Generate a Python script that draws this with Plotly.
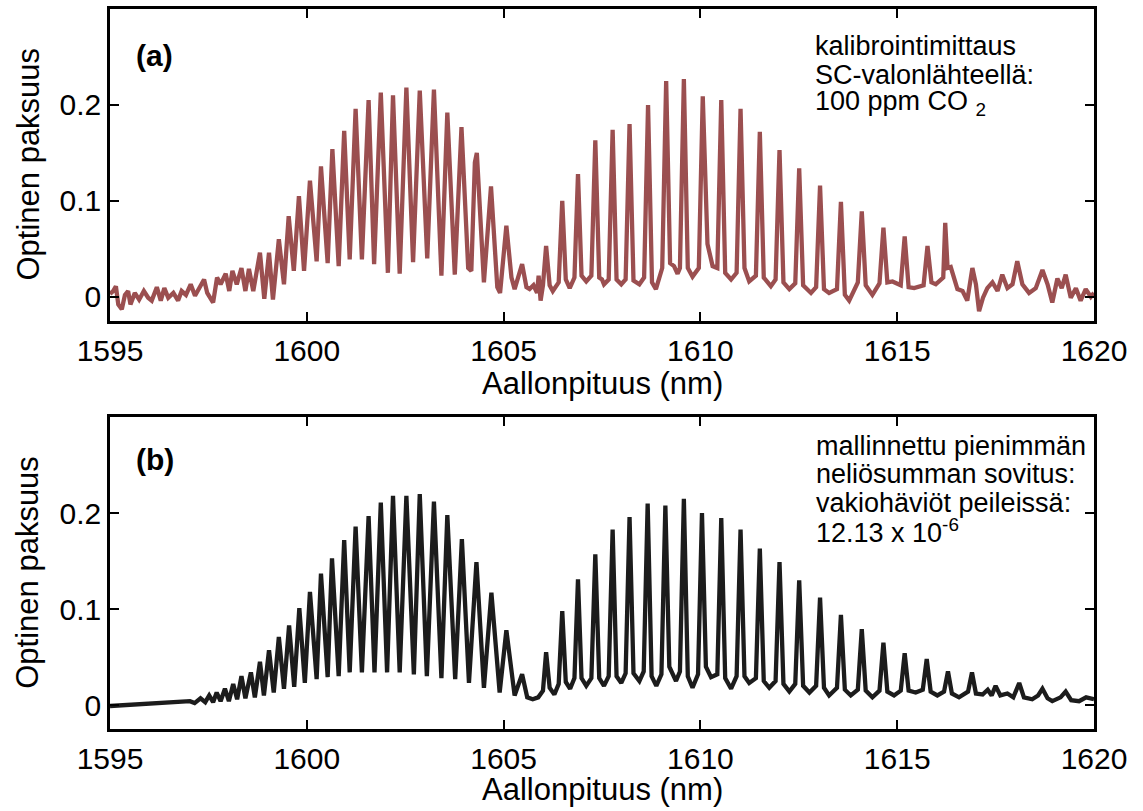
import plotly.graph_objects as go

# (wavelength nm, optical depth), panel (a)
meas_noise = [
    (1595.00, 0.003), (1595.08, 0.006), (1595.15, 0.011), (1595.21, -0.008), (1595.30, -0.013),
    (1595.38, 0.002), (1595.46, 0.006), (1595.52, -0.008), (1595.63, 0.004), (1595.74, -0.003),
    (1595.86, 0.006), (1595.97, -0.001), (1596.06, -0.004), (1596.19, 0.010), (1596.29, -0.004),
    (1596.38, 0.009), (1596.48, -0.001), (1596.61, 0.004), (1596.73, -0.004), (1596.82, 0.006),
    (1596.93, 0.002), (1597.05, 0.013), (1597.16, 0.001), (1597.27, 0.009), (1597.39, 0.018),
    (1597.47, 0.004), (1597.62, -0.006), (1597.72, 0.020), (1597.81, 0.013), (1597.94, 0.024),
    (1598.03, 0.006), (1598.11, 0.027), (1598.22, 0.013), (1598.34, 0.030), (1598.44, 0.006),
    (1598.53, 0.029), (1598.64, 0.006),
]
meas_r_branch = [
    (1598.81, 0.046), (1598.92, -0.002), (1599.04, 0.046), (1599.14, -0.003), (1599.29, 0.060),
    (1599.42, 0.013), (1599.54, 0.084), (1599.67, 0.027), (1599.80, 0.105), (1599.93, 0.027),
    (1600.08, 0.121), (1600.25, 0.037), (1600.36, 0.136), (1600.53, 0.035), (1600.65, 0.154),
    (1600.81, 0.032), (1600.95, 0.173), (1601.09, 0.039), (1601.24, 0.196), (1601.40, 0.039),
    (1601.57, 0.205), (1601.71, 0.034), (1601.88, 0.213), (1602.06, 0.025), (1602.19, 0.210),
    (1602.36, 0.024), (1602.53, 0.218), (1602.70, 0.036), (1602.87, 0.215), (1603.06, 0.040),
    (1603.23, 0.216), (1603.42, 0.022), (1603.57, 0.192), (1603.76, 0.023), (1603.93, 0.177),
    (1604.10, 0.030), (1604.18, 0.027), (1604.27, 0.140), (1604.32, 0.150), (1604.50, 0.015),
    (1604.68, 0.115), (1604.84, 0.010), (1604.91, 0.004), (1605.07, 0.074), (1605.20, 0.020),
    (1605.28, 0.008), (1605.47, 0.034), (1605.58, 0.010), (1605.66, 0.008), (1605.76, 0.012),
    (1605.85, 0.004), (1605.89, 0.022), (1605.94, -0.004),
]
meas_p_branch = [
    (1606.00, 0.012), (1606.08, 0.053), (1606.17, 0.012), (1606.25, 0.006),
    (1606.40, 0.015), (1606.49, 0.100), (1606.58, 0.018), (1606.68, 0.009),
    (1606.80, 0.020), (1606.89, 0.128), (1606.98, 0.022), (1607.10, 0.016),
    (1607.23, 0.022), (1607.33, 0.163), (1607.43, 0.020), (1607.50, 0.018), (1607.55, 0.013),
    (1607.67, 0.018), (1607.77, 0.174), (1607.87, 0.018), (1607.99, 0.013),
    (1608.10, 0.018), (1608.20, 0.180), (1608.30, 0.017), (1608.45, 0.013),
    (1608.57, 0.020), (1608.67, 0.200), (1608.77, 0.015), (1608.87, 0.008),
    (1609.03, 0.030), (1609.13, 0.225), (1609.23, 0.035), (1609.33, 0.032), (1609.42, 0.024),
    (1609.48, 0.030), (1609.58, 0.227), (1609.68, 0.030), (1609.80, 0.021),
    (1609.96, 0.030), (1610.06, 0.209), (1610.18, 0.055), (1610.31, 0.032),
    (1610.43, 0.030), (1610.53, 0.205), (1610.63, 0.025), (1610.78, 0.018),
    (1610.92, 0.025), (1611.02, 0.196), (1611.12, 0.030), (1611.24, 0.016),
    (1611.41, 0.022), (1611.51, 0.172), (1611.61, 0.020), (1611.79, 0.011),
    (1611.91, 0.018), (1612.01, 0.153), (1612.11, 0.015), (1612.26, 0.008),
    (1612.41, 0.014), (1612.51, 0.134), (1612.61, 0.012), (1612.81, 0.004),
    (1612.94, 0.010), (1613.04, 0.116), (1613.14, 0.008), (1613.27, 0.004),
    (1613.47, 0.008), (1613.57, 0.099), (1613.67, 0.002), (1613.78, -0.004),
    (1614.00, 0.015), (1614.10, 0.089), (1614.20, 0.012), (1614.37, 0.002),
    (1614.55, 0.014), (1614.65, 0.072), (1614.75, 0.015), (1614.88, 0.016),
    (1615.09, 0.012), (1615.19, 0.063), (1615.29, 0.010), (1615.43, 0.009),
    (1615.67, 0.012), (1615.77, 0.053), (1615.87, 0.015), (1615.98, 0.013),
    (1616.17, 0.020), (1616.22, 0.077),
]
meas_tail = [
    (1616.28, 0.030), (1616.36, 0.031), (1616.45, 0.020), (1616.53, 0.008), (1616.66, 0.006),
    (1616.78, -0.004), (1616.91, 0.030), (1617.00, 0.013), (1617.08, -0.015), (1617.18, -0.001),
    (1617.29, 0.009), (1617.42, 0.015), (1617.55, 0.006), (1617.67, 0.023), (1617.80, 0.009),
    (1617.93, 0.013), (1618.05, 0.037), (1618.18, 0.013), (1618.35, 0.004), (1618.52, 0.009),
    (1618.69, 0.028), (1618.82, 0.013), (1618.94, -0.006), (1619.07, 0.019), (1619.18, 0.009),
    (1619.28, 0.023), (1619.41, -0.001), (1619.54, 0.009), (1619.66, -0.004), (1619.79, 0.008),
    (1619.92, 0.000), (1620.00, 0.004),
]

# modelled least-squares fit, panel (b)
fit_base = [
    (1595.00, -0.001), (1595.50, 0.000), (1596.00, 0.001), (1596.50, 0.002), (1596.90, 0.003),
    (1597.03, 0.004), (1597.15, 0.002), (1597.30, 0.007), (1597.42, 0.003), (1597.52, 0.010),
    (1597.62, 0.003), (1597.71, 0.013), (1597.81, 0.004), (1597.92, 0.017), (1598.02, 0.004),
    (1598.13, 0.022), (1598.23, 0.006), (1598.34, 0.030), (1598.44, 0.007), (1598.58, 0.034),
    (1598.68, 0.008),
]
fit_r_branch = [
    (1598.81, 0.045), (1598.91, 0.010), (1599.04, 0.057), (1599.16, 0.013), (1599.29, 0.071),
    (1599.42, 0.017), (1599.55, 0.083), (1599.68, 0.019), (1599.81, 0.101), (1599.95, 0.023),
    (1600.08, 0.118), (1600.25, 0.027), (1600.36, 0.137), (1600.53, 0.029), (1600.64, 0.153),
    (1600.81, 0.030), (1600.95, 0.172), (1601.09, 0.034), (1601.24, 0.186), (1601.40, 0.034),
    (1601.57, 0.197), (1601.72, 0.034), (1601.88, 0.211), (1602.04, 0.034), (1602.19, 0.218),
    (1602.36, 0.034), (1602.53, 0.218), (1602.72, 0.032), (1602.87, 0.220), (1603.05, 0.030),
    (1603.23, 0.212), (1603.42, 0.028), (1603.57, 0.198), (1603.77, 0.027), (1603.94, 0.173),
    (1604.12, 0.023), (1604.31, 0.149), (1604.50, 0.018), (1604.69, 0.117), (1604.90, 0.013),
    (1605.07, 0.078), (1605.28, 0.010), (1605.47, 0.032), (1605.60, 0.008), (1605.74, 0.006),
    (1605.88, 0.008),
]
fit_p_branch = [
    (1606.00, 0.015), (1606.08, 0.055), (1606.17, 0.018), (1606.29, 0.011),
    (1606.40, 0.022), (1606.49, 0.098), (1606.58, 0.024), (1606.69, 0.017),
    (1606.80, 0.028), (1606.89, 0.131), (1606.98, 0.028), (1607.10, 0.020),
    (1607.23, 0.028), (1607.33, 0.157), (1607.43, 0.028), (1607.55, 0.020),
    (1607.67, 0.030), (1607.77, 0.183), (1607.87, 0.030), (1607.99, 0.023),
    (1608.10, 0.033), (1608.20, 0.196), (1608.30, 0.033), (1608.45, 0.025),
    (1608.56, 0.035), (1608.66, 0.210), (1608.76, 0.030), (1608.88, 0.020),
    (1609.01, 0.032), (1609.11, 0.208), (1609.21, 0.040), (1609.38, 0.025),
    (1609.48, 0.035), (1609.58, 0.215), (1609.68, 0.030), (1609.80, 0.018),
    (1609.94, 0.032), (1610.04, 0.200), (1610.14, 0.040), (1610.27, 0.029),
    (1610.43, 0.032), (1610.53, 0.195), (1610.63, 0.028), (1610.78, 0.017),
    (1610.92, 0.030), (1611.02, 0.183), (1611.12, 0.030), (1611.24, 0.023),
    (1611.41, 0.028), (1611.51, 0.163), (1611.61, 0.025), (1611.75, 0.018),
    (1611.91, 0.025), (1612.01, 0.149), (1612.11, 0.022), (1612.26, 0.014),
    (1612.41, 0.022), (1612.51, 0.130), (1612.61, 0.020), (1612.77, 0.013),
    (1612.94, 0.020), (1613.04, 0.112), (1613.14, 0.018), (1613.27, 0.010),
    (1613.47, 0.018), (1613.57, 0.094), (1613.67, 0.016), (1613.82, 0.010),
    (1614.00, 0.016), (1614.10, 0.079), (1614.20, 0.015), (1614.37, 0.008),
    (1614.55, 0.015), (1614.65, 0.065), (1614.75, 0.014), (1614.92, 0.010),
    (1615.09, 0.015), (1615.19, 0.054), (1615.29, 0.015), (1615.47, 0.013),
    (1615.65, 0.016), (1615.75, 0.048), (1615.85, 0.014), (1616.02, 0.010),
    (1616.19, 0.014), (1616.29, 0.035), (1616.39, 0.012), (1616.57, 0.008),
]
fit_tail = [
    (1616.80, 0.014), (1616.90, 0.034), (1617.00, 0.012), (1617.17, 0.011), (1617.30, 0.016),
    (1617.40, 0.010), (1617.50, 0.020), (1617.62, 0.010), (1617.80, 0.012), (1617.95, 0.008),
    (1618.10, 0.023), (1618.22, 0.008), (1618.43, 0.006), (1618.58, 0.010), (1618.69, 0.017),
    (1618.82, 0.007), (1618.94, 0.004), (1619.15, 0.008), (1619.28, 0.014), (1619.42, 0.005),
    (1619.62, 0.004), (1619.80, 0.008), (1620.00, 0.006),
]

x_ticks = [1595, 1600, 1605, 1610, 1615, 1620]
y_ticks = [0, 0.1, 0.2]
y_ticktext = ["0", "0.1", "0.2"]

meas = meas_noise + meas_r_branch + meas_p_branch + meas_tail
fit = fit_base + fit_r_branch + fit_p_branch + fit_tail

FONT = "Liberation Sans, Arial, sans-serif"

fig = go.Figure()
fig.add_trace(go.Scatter(
    x=[p[0] for p in meas], y=[p[1] for p in meas], mode="lines",
    line=dict(color="#9b4f50", width=4.3), xaxis="x", yaxis="y",
))
fig.add_trace(go.Scatter(
    x=[p[0] for p in fit], y=[p[1] for p in fit], mode="lines",
    line=dict(color="#1c1c1c", width=4.3), xaxis="x2", yaxis="y2",
))

xax = dict(
    range=[1595, 1620], tickvals=x_ticks, ticks="inside", ticklen=9, tickwidth=2,
    tickcolor="black", showline=True, linewidth=2.5, linecolor="black", mirror="allticks",
    showgrid=False, zeroline=False, tickfont=dict(family=FONT, size=30, color="black"),
    ticklabelstandoff=1,
)
yax = dict(
    range=[-0.025, 0.3], tickvals=y_ticks, ticktext=y_ticktext, ticks="inside", ticklen=9,
    tickwidth=2, tickcolor="black", showline=True, linewidth=2.5, linecolor="black",
    mirror="allticks", showgrid=False, zeroline=False,
    tickfont=dict(family=FONT, size=30, color="black"), ticklabelstandoff=0,
)

fig.update_layout(
    width=1143, height=811,
    margin=dict(l=110, r=49, t=6, b=82),
    plot_bgcolor="white", paper_bgcolor="white",
    showlegend=False,
    xaxis=dict(xax, domain=[0, 1], anchor="y"),
    yaxis=dict(yax, domain=[0.567, 1], anchor="x"),
    xaxis2=dict(xax, domain=[0, 1], anchor="y2"),
    yaxis2=dict(yax, domain=[0, 0.433], anchor="x2"),
)

def label(text, x, y, size=27, xanchor="center", **kw):
    fig.add_annotation(
        text=text, x=x, y=y, xref="paper", yref="paper", showarrow=False,
        xanchor=xanchor, yanchor="middle",
        font=dict(family=FONT, size=size, color="black"), **kw,
    )

# panel letters
label("<b>(a)</b>", 0.0457, 0.936, size=30)
label("<b>(b)</b>", 0.0457, 0.375, size=30)

# axis titles
for yc in [0.784, 0.217]:
    label("Optinen paksuus", -0.0833, yc, size=31, textangle=-90)
label("Aallonpituus (nm)", 0.5, 0.480, size=31)
label("Aallonpituus (nm)", 0.5, -0.0844, size=31)

# panel notes
notes_a = ["kalibrointimittaus", "SC-valonlähteellä:", "100 ppm CO <sub>2</sub>"]
for txt, yc in zip(notes_a, [0.949, 0.909, 0.870]):
    label(txt, 0.7144, yc, xanchor="left")
notes_b = ["mallinnettu pienimmän", "neliösumman sovitus:", "vakiohäviöt peileissä:",
           "12.13 x 10<sup>-6</sup>"]
for txt, yc in zip(notes_b, [0.393, 0.354, 0.314, 0.275]):
    label(txt, 0.7154, yc, xanchor="left")

# the page body has a default 8px margin; drop it so the figure sits at the corner
fig.write_html("out.html", config={"displayModeBar": False},
               post_script="document.body.style.margin='0';")
